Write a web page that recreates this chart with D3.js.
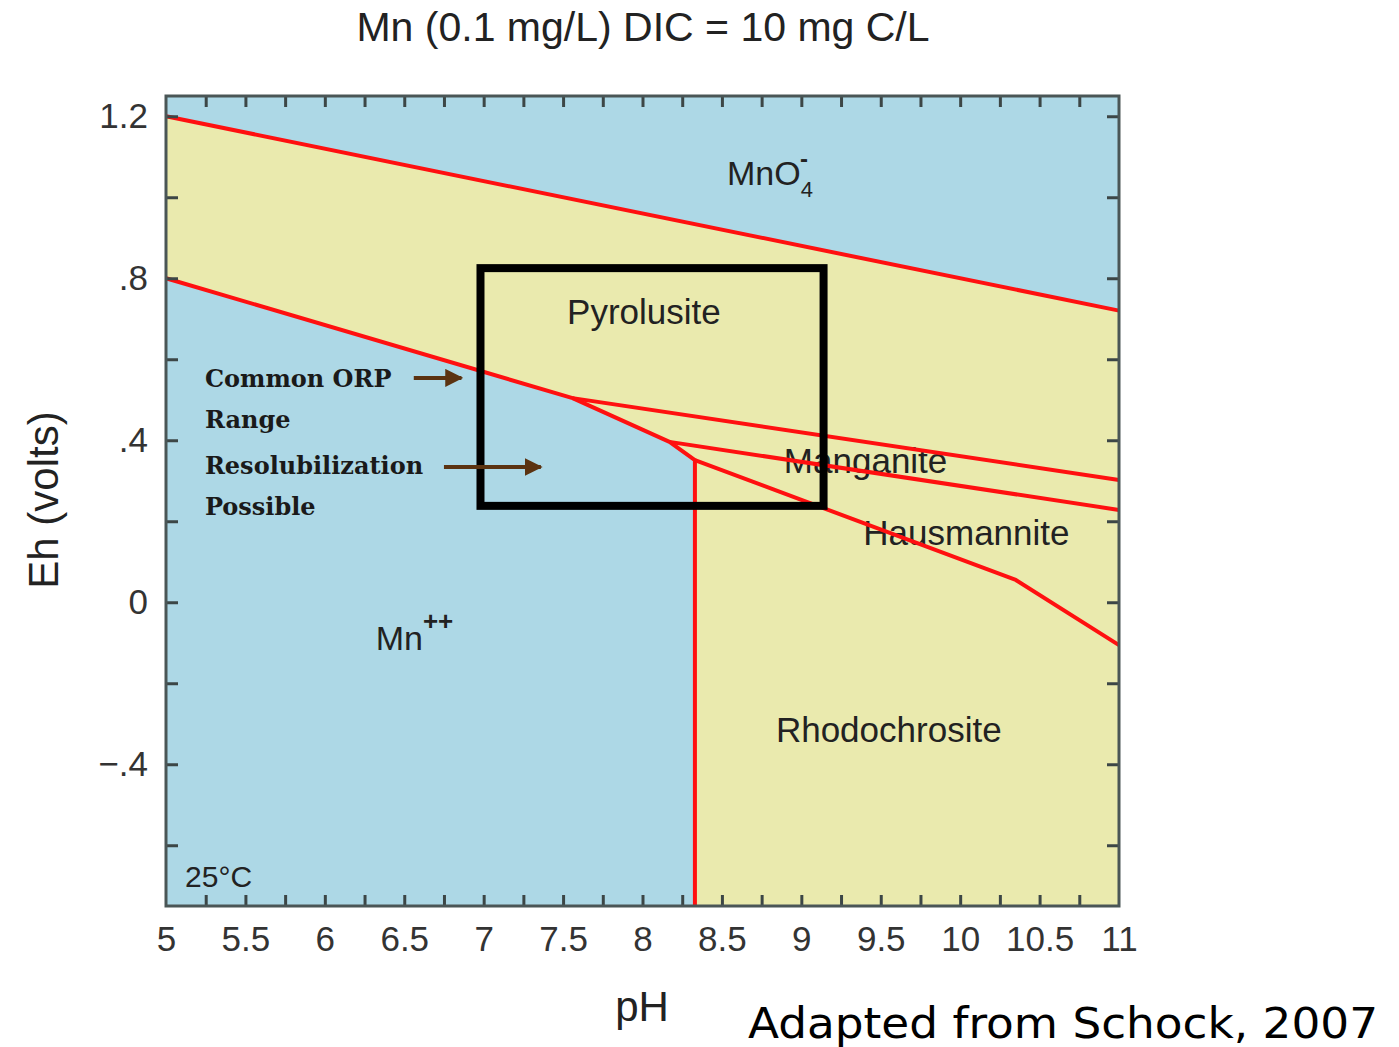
<!DOCTYPE html>
<html>
<head>
<meta charset="utf-8">
<script src="https://cdn.jsdelivr.net/npm/d3@7"></script>
<style>
  body { margin: 0; background: #fff; }
  svg { font-family: "Liberation Sans", Arial, sans-serif; }
</style>
</head>
<body>
<svg id="chart" width="1399" height="1047"></svg>
<script>
// axis values
const phDomain = [5, 11];
const ehDomain = [-0.75, 1.25];
const phTicks = [5, 5.5, 6, 6.5, 7, 7.5, 8, 8.5, 9, 9.5, 10, 10.5, 11];
const phMinor = d3.range(5.25, 11, 0.25);
const ehTicks = [1.2, 0.8, 0.4, 0, -0.4];
const ehTickLabels = ["1.2", ".8", ".4", "0", "\u2212.4"];
const ehMinor = [-0.6, -0.4, -0.2, 0, 0.2, 0.4, 0.6, 0.8, 1.0, 1.2];

// stability field boundaries [pH, Eh]
const mno4Boundary = [[5, 1.2], [11, 0.72]];
const mn2Boundary = [[5, 0.80], [7.56, 0.504], [8.17, 0.396], [8.33, 0.351], [8.33, -0.75]];
const pyroManganite = [[7.56, 0.504], [11, 0.302]];
const manganiteHaus = [[8.17, 0.396], [11, 0.228]];
const hausRhodo = [[8.33, 0.351], [10.35, 0.055], [11, -0.106]];

// common ORP box
const boxPH = [6.98, 9.14];
const boxEh = [0.238, 0.825];

// labels [pH, Eh]
const fieldLabels = [
  {name: "Pyrolusite", pos: [7.525, 0.687]},
  {name: "Manganite", pos: [8.89, 0.319]},
  {name: "Hausmannite", pos: [9.39, 0.142]},
  {name: "Rhodochrosite", pos: [8.84, -0.345]}
];
const noteLines = [
  {text: "Common ORP", pos: [5.245, 0.532]},
  {text: "Range", pos: [5.245, 0.430]},
  {text: "Resolubilization", pos: [5.245, 0.317]},
  {text: "Possible", pos: [5.245, 0.215]}
];
const noteArrows = [
  [[6.56, 0.554], [6.86, 0.554]],
  [[6.75, 0.334], [7.36, 0.334]]
];

const margin = {left: 166, top: 96, right: 280, bottom: 141};
const W = 1399, H = 1047;
const svg = d3.select("#chart");

const x = d3.scaleLinear().domain(phDomain).range([margin.left, W - margin.right]);
const y = d3.scaleLinear().domain(ehDomain).range([H - margin.bottom, margin.top]);
const line = d3.line().x(d => x(d[0])).y(d => y(d[1]));

// fields
svg.append("rect")
  .attr("x", x(5)).attr("y", y(1.25))
  .attr("width", x(11) - x(5)).attr("height", y(-0.75) - y(1.25))
  .attr("fill", "#add8e6");

const yellowField = [...mno4Boundary, [11, -0.75], ...mn2Boundary.slice().reverse()];
svg.append("path")
  .attr("d", line(yellowField) + "Z")
  .attr("fill", "#eaeaae");

// field labels (under the lines)
svg.selectAll(".field")
  .data(fieldLabels)
  .join("text")
  .attr("x", d => x(d.pos[0])).attr("y", d => y(d.pos[1]))
  .attr("font-size", 35).attr("fill", "#222")
  .text(d => d.name);

const mno4 = svg.append("text")
  .attr("x", x(8.532)).attr("y", y(1.030))
  .attr("font-size", 34).attr("fill", "#222");
mno4.append("tspan").text("MnO");
mno4.append("tspan").attr("font-size", 22).attr("dy", 12).text("4");
mno4.append("tspan").attr("font-size", 24).attr("font-weight", "bold").attr("dx", -13).attr("dy", -30).text("-");

const mn2 = svg.append("text")
  .attr("x", x(6.32)).attr("y", y(-0.118))
  .attr("font-size", 34).attr("fill", "#222");
mn2.append("tspan").text("Mn");
mn2.append("tspan").attr("font-size", 26).attr("font-weight", "bold").attr("dy", -20).text("++");

svg.append("text")
  .attr("x", x(5.12)).attr("y", y(-0.703))
  .attr("font-size", 30).attr("fill", "#222")
  .text("25\u00b0C");

// boundaries
[mno4Boundary, mn2Boundary, pyroManganite, manganiteHaus, hausRhodo].forEach(b => {
  svg.append("path")
    .attr("d", line(b))
    .attr("fill", "none")
    .attr("stroke", "#ff1010")
    .attr("stroke-width", 4)
    .attr("stroke-linejoin", "round");
});

// ORP box
svg.append("rect")
  .attr("x", x(boxPH[0])).attr("y", y(boxEh[1]))
  .attr("width", x(boxPH[1]) - x(boxPH[0]))
  .attr("height", y(boxEh[0]) - y(boxEh[1]))
  .attr("fill", "none").attr("stroke", "#000").attr("stroke-width", 8);

// notes + arrows
svg.append("defs").append("marker")
  .attr("id", "head")
  .attr("viewBox", "0 0 10 10")
  .attr("refX", 9).attr("refY", 5)
  .attr("markerWidth", 4.5).attr("markerHeight", 4.5)
  .attr("orient", "auto")
  .append("path").attr("d", "M0,0L10,5L0,10Z").attr("fill", "#5b3311");

svg.selectAll(".note")
  .data(noteLines)
  .join("text")
  .attr("x", d => x(d.pos[0])).attr("y", d => y(d.pos[1]))
  .style("font-family", "'DejaVu Serif', serif")
  .attr("font-weight", "bold")
  .attr("font-size", 24).attr("fill", "#1a1a1a")
  .text(d => d.text);

svg.selectAll(".arrow")
  .data(noteArrows)
  .join("path")
  .attr("d", d => line(d))
  .attr("stroke", "#5b3311").attr("stroke-width", 4)
  .attr("marker-end", "url(#head)");

// frame ticks
const tickColor = "#3c4646";
function inner(g) {
  g.select(".domain").remove();
  g.selectAll("line").attr("stroke", tickColor).attr("stroke-width", 3);
}
svg.append("g").attr("transform", `translate(0,${y(-0.75)})`)
  .call(d3.axisBottom(x).tickValues(phMinor).tickSize(-11).tickFormat("")).call(inner);
svg.append("g").attr("transform", `translate(0,${y(1.25)})`)
  .call(d3.axisTop(x).tickValues(phMinor).tickSize(-11).tickFormat("")).call(inner);
svg.append("g").attr("transform", `translate(${x(5)},0)`)
  .call(d3.axisLeft(y).tickValues(ehMinor).tickSize(-12).tickFormat("")).call(inner);
svg.append("g").attr("transform", `translate(${x(11)},0)`)
  .call(d3.axisRight(y).tickValues(ehMinor).tickSize(-12).tickFormat("")).call(inner);

svg.append("rect")
  .attr("x", x(5)).attr("y", y(1.25))
  .attr("width", x(11) - x(5)).attr("height", y(-0.75) - y(1.25))
  .attr("fill", "none").attr("stroke", "#4a5656").attr("stroke-width", 3);

// tick labels
const xLab = svg.append("g").attr("transform", `translate(0,${y(-0.75)})`)
  .call(d3.axisBottom(x).tickValues(phTicks).tickSize(0).tickPadding(20).tickFormat(d3.format("")));
xLab.select(".domain").remove();
xLab.attr("font-family", null);
xLab.selectAll("text").attr("font-size", 35).attr("fill", "#333");

const yLab = svg.append("g").attr("transform", `translate(${x(5)},0)`)
  .call(d3.axisLeft(y).tickValues(ehTicks).tickSize(0).tickPadding(18)
    .tickFormat((d, i) => ehTickLabels[i]));
yLab.select(".domain").remove();
yLab.attr("font-family", null);
yLab.selectAll("text").attr("font-size", 35).attr("fill", "#333");

// titles
svg.append("text")
  .attr("x", 643).attr("y", 41)
  .attr("text-anchor", "middle")
  .attr("font-size", 41).attr("fill", "#222")
  .text("Mn (0.1 mg/L) DIC = 10 mg C/L");

svg.append("text")
  .attr("x", 642).attr("y", 1021)
  .attr("text-anchor", "middle")
  .attr("font-size", 42).attr("fill", "#222")
  .text("pH");

svg.append("text")
  .attr("transform", "translate(58,500) rotate(-90)")
  .attr("text-anchor", "middle")
  .attr("font-size", 42).attr("fill", "#222")
  .text("Eh (volts)");

svg.append("text")
  .attr("x", 748).attr("y", 1038)
  .style("font-family", "'DejaVu Sans', sans-serif")
  .attr("font-size", 42)
  .attr("textLength", 630).attr("lengthAdjust", "spacingAndGlyphs")
  .attr("fill", "#000")
  .text("Adapted from Schock, 2007");
</script>
</body>
</html>
